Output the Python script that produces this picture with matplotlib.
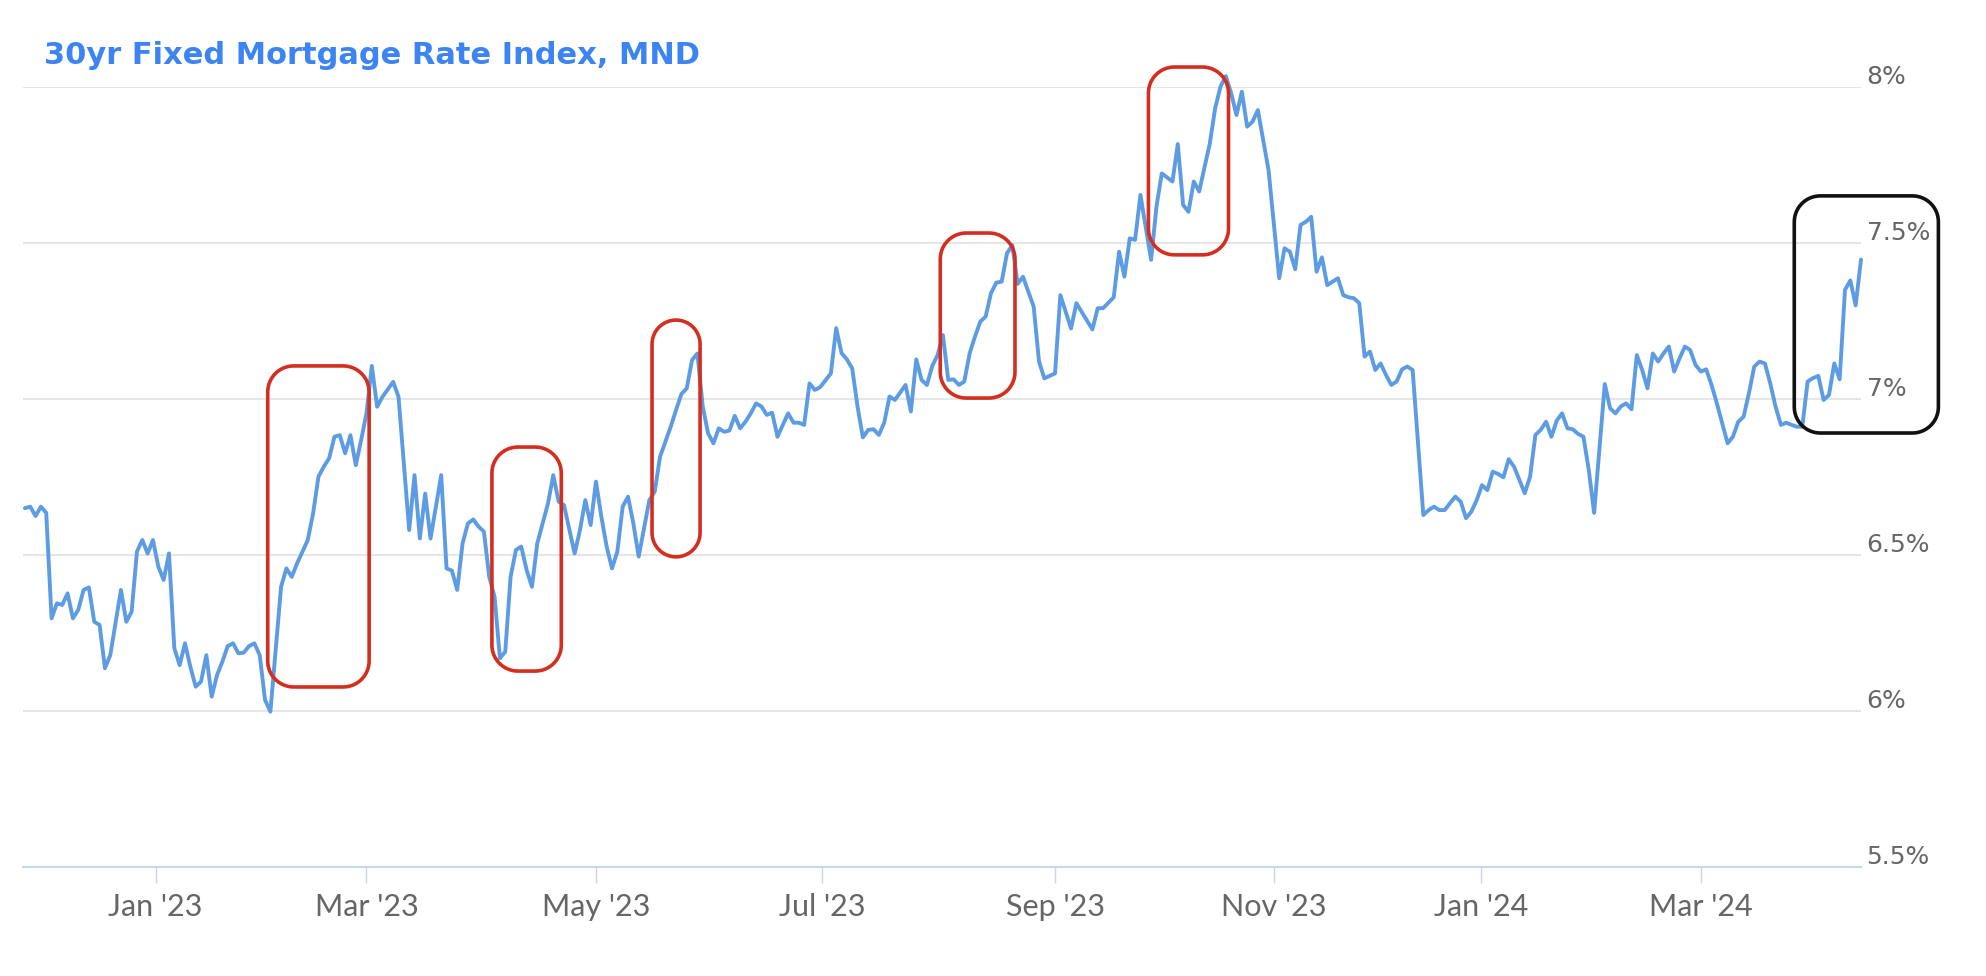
import numpy as np
import pandas as pd
import matplotlib
matplotlib.use("Agg")
import matplotlib.pyplot as plt
from matplotlib.patches import Polygon
from matplotlib.transforms import IdentityTransform, ScaledTranslation

title = "30yr Fixed Mortgage Rate Index, MND"

# trading-day calendar (no data on these days)
holidays = ["2022-12-26", "2023-01-02", "2023-01-16", "2023-02-20", "2023-05-29",
            "2023-06-19", "2023-07-04", "2023-09-04", "2023-10-09", "2023-11-10",
            "2023-11-23", "2023-11-24", "2023-12-25", "2024-01-01", "2024-01-15",
            "2024-02-19", "2024-03-29"]

dates = [
    "2022-11-25", "2022-11-28", "2022-11-29", "2022-11-30", "2022-12-01", "2022-12-02",
    "2022-12-05", "2022-12-06", "2022-12-07", "2022-12-08", "2022-12-09", "2022-12-12",
    "2022-12-13", "2022-12-14", "2022-12-15", "2022-12-16", "2022-12-19", "2022-12-21",
    "2022-12-22", "2022-12-23", "2022-12-27", "2022-12-28", "2022-12-29", "2022-12-30",
    "2023-01-03", "2023-01-04", "2023-01-05", "2023-01-06", "2023-01-09", "2023-01-10",
    "2023-01-11", "2023-01-12", "2023-01-13", "2023-01-17", "2023-01-18", "2023-01-19",
    "2023-01-20", "2023-01-23", "2023-01-24", "2023-01-25", "2023-01-26", "2023-01-27",
    "2023-01-30", "2023-01-31", "2023-02-01", "2023-02-02", "2023-02-06", "2023-02-07",
    "2023-02-08", "2023-02-09", "2023-02-13", "2023-02-14", "2023-02-15", "2023-02-16",
    "2023-02-17", "2023-02-21", "2023-02-22", "2023-02-23", "2023-02-24", "2023-02-27",
    "2023-02-28", "2023-03-01", "2023-03-02", "2023-03-03", "2023-03-06", "2023-03-08",
    "2023-03-09", "2023-03-13", "2023-03-14", "2023-03-15", "2023-03-16", "2023-03-17",
    "2023-03-21", "2023-03-22", "2023-03-23", "2023-03-24", "2023-03-27", "2023-03-28",
    "2023-03-29", "2023-03-30", "2023-03-31", "2023-04-03", "2023-04-04", "2023-04-05",
    "2023-04-06", "2023-04-07", "2023-04-10", "2023-04-11", "2023-04-12", "2023-04-13",
    "2023-04-14", "2023-04-18", "2023-04-19", "2023-04-20", "2023-04-21", "2023-04-25",
    "2023-04-26", "2023-04-27", "2023-04-28", "2023-05-01", "2023-05-02", "2023-05-03",
    "2023-05-04", "2023-05-05", "2023-05-08", "2023-05-09", "2023-05-10", "2023-05-11",
    "2023-05-15", "2023-05-16", "2023-05-17", "2023-05-19", "2023-05-22", "2023-05-23",
    "2023-05-24", "2023-05-25", "2023-05-26", "2023-05-30", "2023-05-31", "2023-06-01",
    "2023-06-02", "2023-06-05", "2023-06-06", "2023-06-07", "2023-06-08", "2023-06-09",
    "2023-06-12", "2023-06-13", "2023-06-14", "2023-06-15", "2023-06-16", "2023-06-20",
    "2023-06-21", "2023-06-22", "2023-06-23", "2023-06-26", "2023-06-27", "2023-06-28",
    "2023-06-29", "2023-06-30", "2023-07-05", "2023-07-06", "2023-07-07", "2023-07-10",
    "2023-07-11", "2023-07-12", "2023-07-13", "2023-07-14", "2023-07-17", "2023-07-18",
    "2023-07-19", "2023-07-20", "2023-07-21", "2023-07-25", "2023-07-26", "2023-07-27",
    "2023-07-28", "2023-07-31", "2023-08-01", "2023-08-02", "2023-08-03", "2023-08-04",
    "2023-08-07", "2023-08-08", "2023-08-09", "2023-08-10", "2023-08-11", "2023-08-14",
    "2023-08-15", "2023-08-16", "2023-08-17", "2023-08-18", "2023-08-21", "2023-08-22",
    "2023-08-23", "2023-08-24", "2023-08-28", "2023-08-29", "2023-08-30", "2023-09-01",
    "2023-09-05", "2023-09-07", "2023-09-08", "2023-09-13", "2023-09-14", "2023-09-15",
    "2023-09-19", "2023-09-20", "2023-09-21", "2023-09-22", "2023-09-25", "2023-09-26",
    "2023-09-28", "2023-09-29", "2023-10-02", "2023-10-04", "2023-10-05", "2023-10-06",
    "2023-10-10", "2023-10-11", "2023-10-12", "2023-10-16", "2023-10-17", "2023-10-18",
    "2023-10-19", "2023-10-20", "2023-10-23", "2023-10-24", "2023-10-25", "2023-10-26",
    "2023-10-27", "2023-10-31", "2023-11-02", "2023-11-03", "2023-11-06", "2023-11-07",
    "2023-11-08", "2023-11-09", "2023-11-13", "2023-11-14", "2023-11-15", "2023-11-16",
    "2023-11-17", "2023-11-20", "2023-11-21", "2023-11-22", "2023-11-27", "2023-11-28",
    "2023-11-29", "2023-11-30", "2023-12-01", "2023-12-04", "2023-12-05", "2023-12-06",
    "2023-12-07", "2023-12-08", "2023-12-11", "2023-12-12", "2023-12-14", "2023-12-15",
    "2023-12-18", "2023-12-19", "2023-12-20", "2023-12-21", "2023-12-22", "2023-12-26",
    "2023-12-27", "2023-12-28", "2023-12-29", "2024-01-02", "2024-01-03", "2024-01-04",
    "2024-01-05", "2024-01-08", "2024-01-09", "2024-01-10", "2024-01-12", "2024-01-16",
    "2024-01-17", "2024-01-18", "2024-01-19", "2024-01-22", "2024-01-23", "2024-01-24",
    "2024-01-25", "2024-01-26", "2024-01-29", "2024-01-30", "2024-01-31", "2024-02-01",
    "2024-02-05", "2024-02-06", "2024-02-07", "2024-02-08", "2024-02-09", "2024-02-12",
    "2024-02-13", "2024-02-14", "2024-02-15", "2024-02-16", "2024-02-20", "2024-02-21",
    "2024-02-22", "2024-02-23", "2024-02-26", "2024-02-27", "2024-02-28", "2024-02-29",
    "2024-03-01", "2024-03-04", "2024-03-05", "2024-03-06", "2024-03-07", "2024-03-08",
    "2024-03-11", "2024-03-12", "2024-03-13", "2024-03-14", "2024-03-15", "2024-03-18",
    "2024-03-19", "2024-03-20", "2024-03-21", "2024-03-22", "2024-03-25", "2024-03-26",
    "2024-03-27", "2024-03-28", "2024-04-01", "2024-04-02", "2024-04-03", "2024-04-04",
    "2024-04-05", "2024-04-08", "2024-04-09", "2024-04-10", "2024-04-11", "2024-04-12",
    "2024-04-15",
]

rates = [
    6.65, 6.655, 6.625, 6.655, 6.635, 6.297,
    6.345, 6.34, 6.377, 6.297, 6.324, 6.388,
    6.396, 6.286, 6.276, 6.137, 6.179, 6.388,
    6.286, 6.318, 6.511, 6.548, 6.505, 6.548,
    6.463, 6.42, 6.505, 6.201, 6.147, 6.217,
    6.142, 6.078, 6.094, 6.179, 6.046, 6.115,
    6.158, 6.208, 6.217, 6.185, 6.187, 6.208,
    6.217, 6.179, 6.035, 5.998, 6.398, 6.457,
    6.43, 6.473, 6.548, 6.633, 6.751, 6.783,
    6.81, 6.879, 6.884, 6.826, 6.884, 6.788,
    6.868, 6.954, 7.106, 6.975, 7.007, 7.055,
    7.007, 6.58, 6.756, 6.553, 6.697, 6.553,
    6.756, 6.457, 6.45, 6.388, 6.537, 6.601,
    6.614, 6.591, 6.575, 6.43, 6.366, 6.169,
    6.19, 6.43, 6.516, 6.527, 6.452, 6.398,
    6.537, 6.665, 6.756, 6.671, 6.66, 6.505,
    6.58, 6.676, 6.596, 6.735, 6.623, 6.527,
    6.457, 6.511, 6.655, 6.687, 6.601, 6.495,
    6.676, 6.703, 6.815, 6.911, 6.965, 7.016,
    7.034, 7.125, 7.146, 6.976, 6.89, 6.858,
    6.906, 6.895, 6.899, 6.946, 6.906, 6.927,
    6.954, 6.986, 6.976, 6.949, 6.956, 6.879,
    6.917, 6.954, 6.924, 6.924, 6.917, 7.05,
    7.029, 7.038, 7.082, 7.227, 7.147, 7.127,
    7.098, 6.976, 6.877, 6.901, 6.903, 6.885,
    6.924, 7.008, 6.997, 7.045, 6.96, 7.127,
    7.061, 7.045, 7.106, 7.141, 7.205, 7.061,
    7.063, 7.045, 7.056, 7.146, 7.2, 7.248,
    7.264, 7.339, 7.373, 7.376, 7.467, 7.493,
    7.369, 7.392, 7.296, 7.12, 7.066, 7.082,
    7.333, 7.226, 7.307, 7.223, 7.291, 7.291,
    7.326, 7.472, 7.392, 7.515, 7.51, 7.654,
    7.446, 7.616, 7.723, 7.697, 7.817, 7.622,
    7.6, 7.697, 7.665, 7.819, 7.932, 8.001,
    8.035, 7.98, 7.91, 7.985, 7.873, 7.889,
    7.926, 7.734, 7.387, 7.483, 7.472, 7.416,
    7.558, 7.568, 7.584, 7.408, 7.454, 7.365,
    7.376, 7.387, 7.333, 7.326, 7.323, 7.307,
    7.136, 7.152, 7.093, 7.114, 7.077, 7.045,
    7.056, 7.095, 7.104, 7.093, 6.628, 6.644,
    6.655, 6.644, 6.644, 6.666, 6.687, 6.671,
    6.618, 6.639, 6.676, 6.724, 6.708, 6.767,
    6.76, 6.749, 6.807, 6.783, 6.698, 6.751,
    6.885, 6.901, 6.927, 6.879, 6.931, 6.954,
    6.906, 6.903, 6.888, 6.879, 6.772, 6.635,
    7.048, 6.97, 6.954, 6.976, 6.986, 6.967,
    7.141, 7.093, 7.034, 7.146, 7.12, 7.146,
    7.168, 7.088, 7.13, 7.168, 7.157, 7.109,
    7.088, 7.095, 7.045, 6.986, 6.922, 6.858,
    6.879, 6.927, 6.943, 7.018, 7.104, 7.12,
    7.114, 7.05, 6.975, 6.917, 6.924, 6.917,
    6.911, 6.911, 7.056, 7.067, 7.074, 6.997,
    7.013, 7.114, 7.063, 7.35, 7.38, 7.3,
    7.447,
]

y_ticks = [5.5, 6.0, 6.5, 7.0, 7.5, 8.0]
y_tick_labels = ["5.5%", "6%", "6.5%", "7%", "7.5%", "8%"]

x_tick_months = ["2023-01-01", "2023-03-01", "2023-05-01", "2023-07-01", "2023-09-01",
                 "2023-11-01", "2024-01-01", "2024-03-01"]
x_tick_labels = ["Jan '23", "Mar '23", "May '23", "Jul '23", "Sep '23",
                 "Nov '23", "Jan '24", "Mar '24"]

# highlighted stretches: (first day inside, last day inside, low, high)
red_boxes = [
    ("2023-02-02", "2023-03-01", 6.077, 7.106),
    ("2023-04-04", "2023-04-20", 6.128, 6.846),
    ("2023-05-16", "2023-05-26", 6.494, 7.253),
    ("2023-08-03", "2023-08-22", 7.003, 7.532),
    ("2023-09-28", "2023-10-19", 7.462, 8.064),
]
black_box = ("2024-03-27", "2024-05-03", 6.891, 7.651)

LINE = "#5d9ce3"
GRID = "#e6e6e6"
AXIS = "#ccd6eb"
LABEL = "#666666"
TITLE_C = "#3c84f4"
RED = "#d42e20"

W, H = 1986, 976
fig = plt.figure(figsize=(W / 100, H / 100), dpi=100)
fig.patch.set_facecolor("white")
ax = fig.add_axes([23 / W, 109 / H, 1838 / W, 780 / H])

cal = pd.bdate_range("2022-11-25", "2024-05-31", freq="C", holidays=holidays)
pos = cal.get_indexer(pd.to_datetime(dates))
assert (pos >= 0).all()

ax.plot(pos, rates, color=LINE, lw=2.8, solid_joinstyle="round",
        solid_capstyle="round", clip_on=False, zorder=3)

ax.set_xlim(-0.35, pos[-1])
ax.set_ylim(5.5, 8.0)

# y axis on the right, labels sitting on the grid lines
ax.set_yticks(y_ticks)
ax.set_yticklabels(y_tick_labels)
ax.yaxis.tick_right()
ax.tick_params(axis="y", length=0, pad=4, labelsize=18, labelcolor=LABEL)
shift = ScaledTranslation(0, -2 / 100, fig.dpi_scale_trans)
for lbl in ax.get_yticklabels():
    lbl.set_verticalalignment("bottom")
    lbl.set_transform(lbl.get_transform() + shift)
ax.yaxis.grid(True, color=GRID, lw=1.5)
ax.set_axisbelow(True)

# x axis ticks at month starts (ordinal axis)
tick_pos = np.interp(pd.to_datetime(x_tick_months).asi8, cal.asi8, np.arange(len(cal)))
ax.set_xticks(tick_pos)
ax.set_xticklabels(x_tick_labels, fontfamily=["Lato", "DejaVu Sans"])
ax.tick_params(axis="x", length=11.5, width=1, color=AXIS, pad=7,
               labelsize=22, labelcolor=LABEL)

for s in ["left", "right", "top"]:
    ax.spines[s].set_visible(False)
ax.spines["bottom"].set_color(AXIS)
ax.spines["bottom"].set_linewidth(1.5)

fig.text(44 / W, 1 - 56 / H, title, color=TITLE_C, fontsize=22, fontweight="bold",
         ha="left", va="center", family="DejaVu Sans")


def rounded_rect(x0, y0, x1, y1, r, n=16):
    pts = []
    corners = [(x1 - r, y1 - r, 0), (x0 + r, y1 - r, 90),
               (x0 + r, y0 + r, 180), (x1 - r, y0 + r, 270)]
    for cx, cy, a0 in corners:
        t = np.radians(np.linspace(a0, a0 + 90, n))
        pts.extend(zip(cx + r * np.cos(t), cy + r * np.sin(t)))
    return np.array(pts)


def add_box(first, last, low, high, color, lw=2.6, radius=26):
    p0 = cal.get_loc(pd.Timestamp(first)) - 0.5
    p1 = cal.get_loc(pd.Timestamp(last)) + 0.5
    (x0, y0), (x1, y1) = ax.transData.transform([(p0, low), (p1, high)])
    r = min(radius, (x1 - x0) / 2, (y1 - y0) / 2)
    poly = Polygon(rounded_rect(x0, y0, x1, y1, r), closed=True, fill=False,
                   ec=color, lw=lw, transform=IdentityTransform(), zorder=5)
    fig.add_artist(poly)


for b in red_boxes:
    add_box(*b, color=RED)
add_box(*black_box, color="#111111", lw=2.6)

fig.savefig("out.png", dpi=100, facecolor="white")
